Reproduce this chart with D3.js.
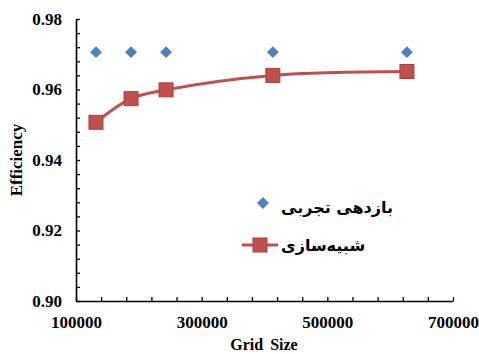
<!DOCTYPE html>
<html>
<head>
<meta charset="utf-8">
<script src="https://cdn.jsdelivr.net/npm/d3@7"></script>
<style>
  body { margin: 0; background: #fff; }
  svg { display: block; }
  .tick text { font-family: "Liberation Serif", "Times New Roman", serif; font-weight: bold; font-size: 17px; fill: #000; }
</style>
</head>
<body>
<svg id="chart"></svg>
<script>
const W = 479, H = 354;

// data
const gridSize = [131800, 187600, 243300, 413300, 626700];
const experimental = [0.9706, 0.9706, 0.9706, 0.9706, 0.9706];
const simulation = [0.9507, 0.9574, 0.9599, 0.9640, 0.9651];
const seriesNames = ["بازدهی تجربی", "شبیه\u200Cسازی"];
const xTickLabels = [100000, 300000, 500000, 700000];
const yTickLabels = [0.90, 0.92, 0.94, 0.96, 0.98];

const svg = d3.select("#chart").attr("width", W).attr("height", H);

const x = d3.scaleLinear().domain([100000, 700000]).range([76, 453]);
const y = d3.scaleLinear().domain([0.90, 0.98]).range([301, 19]);

// minor ticks every 1/5 of the label step
const xMinor = d3.range(100000, 700001, 40000);
const yMinor = d3.range(0, 21).map(i => 0.90 + i * 0.004);

// y axis
const gy = svg.append("g").attr("transform", "translate(76,0)");
gy.call(d3.axisLeft(y).tickValues(yMinor).tickFormat("").tickSizeInner(-4).tickSizeOuter(0));
gy.append("g").call(d3.axisLeft(y).tickValues(yTickLabels).tickFormat(d3.format(".2f")).tickSize(0).tickPadding(14))
  .select(".domain").remove();

// x axis
const gx = svg.append("g").attr("transform", "translate(0,301)");
gx.call(d3.axisBottom(x).tickValues(xMinor).tickFormat("").tickSizeInner(-4).tickSizeOuter(0));
gx.append("g").call(d3.axisBottom(x).tickValues(xTickLabels).tickFormat(d3.format("d")).tickSize(0).tickPadding(15))
  .select(".domain").remove();

svg.selectAll(".domain").attr("stroke", "#000").attr("stroke-width", 1.6);
svg.selectAll(".tick line").attr("stroke", "#000").attr("stroke-width", 1.3);

// axis titles
svg.append("text")
  .attr("x", 264).attr("y", 350)
  .attr("text-anchor", "middle")
  .attr("font-family", "Liberation Serif, serif").attr("font-weight", "bold").attr("font-size", 16)
  .attr("word-spacing", 3)
  .text("Grid Size");

svg.append("text")
  .attr("transform", "translate(22,160) rotate(-90)")
  .attr("text-anchor", "middle")
  .attr("font-family", "Liberation Serif, serif").attr("font-weight", "bold").attr("font-size", 17)
  .text("Efficiency");

// simulation line
const simPts = gridSize.map((g, i) => [g, simulation[i]]);
const line = d3.line().x(d => x(d[0])).y(d => y(d[1])).curve(d3.curveCatmullRom.alpha(0.5));

svg.append("path")
  .datum(simPts)
  .attr("fill", "none")
  .attr("stroke", "#C0504D")
  .attr("stroke-width", 3)
  .attr("d", line);

const sq = 14;
svg.selectAll(".sim").data(simPts).join("rect")
  .attr("class", "sim")
  .attr("x", d => x(d[0]) - sq / 2).attr("y", d => y(d[1]) - sq / 2)
  .attr("width", sq).attr("height", sq)
  .attr("fill", "#C0504D").attr("stroke", "#A8403D").attr("stroke-width", 1);

// experimental diamonds
const diamond = d3.symbol().type(d3.symbolDiamond2).size(90);
svg.selectAll(".exp").data(gridSize.map((g, i) => [g, experimental[i]])).join("path")
  .attr("class", "exp")
  .attr("transform", d => `translate(${x(d[0])},${y(d[1])})`)
  .attr("d", diamond)
  .attr("fill", "#4F81BD");

// legend
const lg = svg.append("g");
lg.append("path").attr("transform", "translate(263,203)").attr("d", diamond).attr("fill", "#4F81BD");
lg.append("line").attr("x1", 242).attr("x2", 278).attr("y1", 245).attr("y2", 245)
  .attr("stroke", "#C0504D").attr("stroke-width", 3);
lg.append("rect").attr("x", 260 - sq / 2).attr("y", 245 - sq / 2).attr("width", sq).attr("height", sq)
  .attr("fill", "#C0504D").attr("stroke", "#A8403D");

lg.selectAll(".lt").data(seriesNames).join("text")
  .attr("class", "lt")
  .attr("x", 281)
  .attr("y", (d, i) => i === 0 ? 213 : 251)
  .attr("font-family", "DejaVu Sans, sans-serif").attr("font-weight", "bold").attr("font-size", 16)
  .text(d => d);
</script>
</body>
</html>
